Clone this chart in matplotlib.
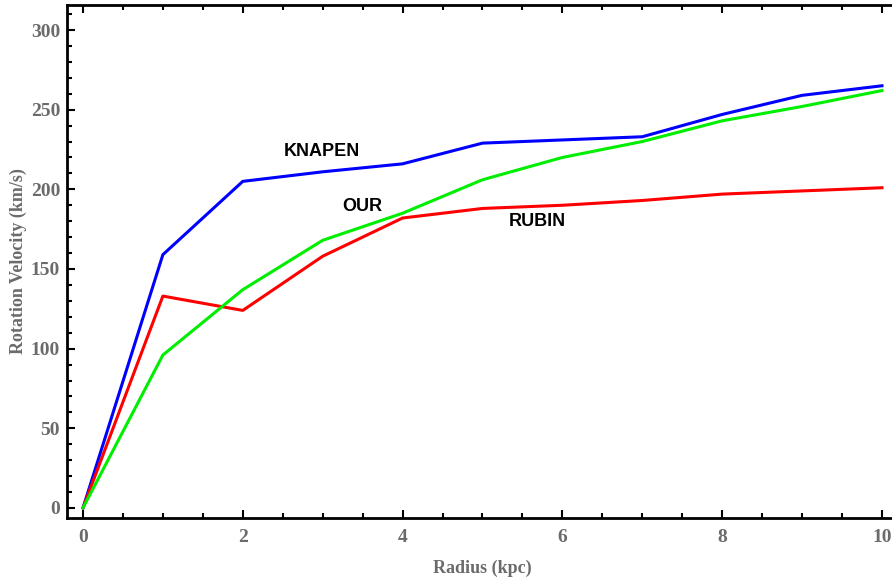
import matplotlib
matplotlib.use("Agg")
import matplotlib.pyplot as plt
from matplotlib.ticker import MultipleLocator

radius = [0, 1, 2, 3, 4, 5, 6, 7, 8, 9, 10]
knapen = [0, 159, 205, 211, 216, 229, 231, 233, 247, 259, 265]
rubin = [0, 133, 124, 158, 182, 188, 190, 193, 197, 199, 201]
our = [0, 96, 137, 168, 185, 206, 220, 230, 243, 252, 262]

series_labels = ["KNAPEN", "OUR", "RUBIN"]
label_pos = [(2.99, 224), (3.49, 189), (5.69, 179.5)]

W, H = 892, 583
left_px, right_px, top_px, bottom_px = 67, 897, 5, 518

fig = plt.figure(figsize=(W / 100, H / 100), dpi=100)
ax = fig.add_axes([left_px / W, 1 - bottom_px / H,
                   (right_px - left_px) / W, (bottom_px - top_px) / H])

ax.plot(radius, knapen, color="#0000ff", lw=2.2)
ax.plot(radius, rubin, color="#ff0000", lw=2.2)
ax.plot(radius, our, color="#00ee00", lw=2.2)

for txt, (x, y) in zip(series_labels, label_pos):
    ax.text(x, y, txt, ha="center", va="center", fontsize=13,
            fontweight="bold", family="Liberation Sans", color="black")

ax.set_xlim(-0.2, -0.2 + (right_px - left_px) / 79.9)
ax.set_ylim(-6.3, 315.7)

ax.xaxis.set_major_locator(MultipleLocator(2))
ax.xaxis.set_minor_locator(MultipleLocator(0.5))
ax.yaxis.set_major_locator(MultipleLocator(50))
ax.yaxis.set_minor_locator(MultipleLocator(10))

for s in ax.spines.values():
    s.set_linewidth(2.0)
ax.tick_params(which="both", direction="in", top=True, right=False,
               width=1.5, labelcolor="#6b6b6b")
ax.tick_params(which="major", length=6)
ax.tick_params(which="minor", length=3.5)
ax.tick_params(axis="x", pad=8)
ax.tick_params(axis="y", pad=5)

for lab in ax.get_xticklabels() + ax.get_yticklabels():
    lab.set_fontfamily("Liberation Serif")
    lab.set_fontweight("bold")
    lab.set_fontsize(14)

label_font = dict(family="Liberation Serif", weight="bold", size=13)
ax.set_xlabel("Radius (kpc)", fontdict=label_font, color="#6b6b6b", labelpad=10)
ax.set_ylabel("Rotation Velocity (km/s)", fontdict=label_font, color="#6b6b6b", labelpad=3)

fig.savefig("out.png", dpi=100)
